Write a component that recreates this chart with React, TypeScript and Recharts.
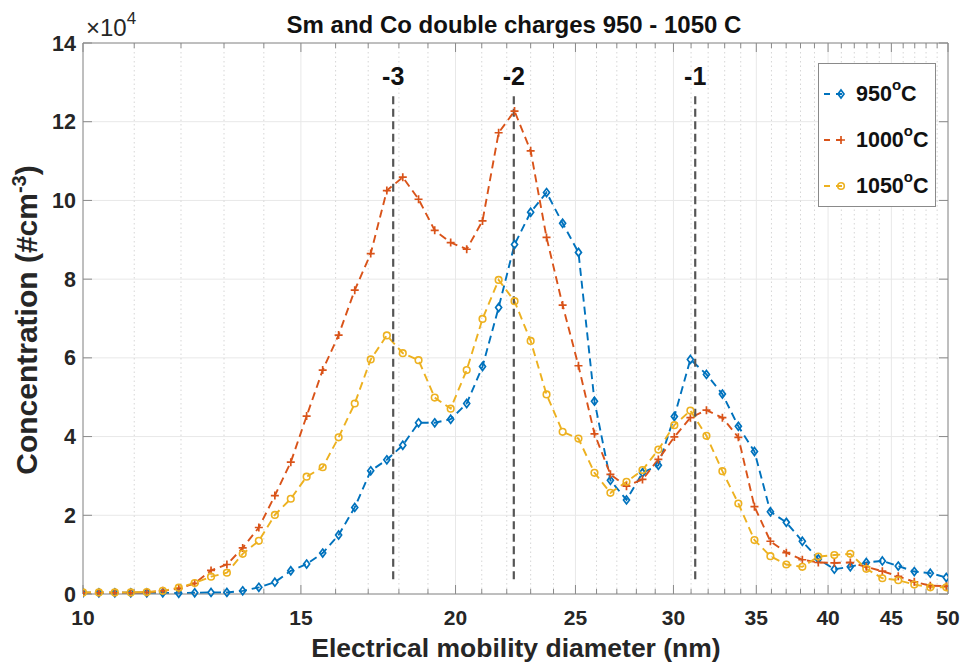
import React from 'react';
import { LineChart, Line, XAxis, YAxis, CartesianGrid, ReferenceLine, Legend } from 'recharts';

const FONT = '"Liberation Sans", Arial, Helvetica, sans-serif';
const AXIS_COLOR = '#8a8a8a';
const TEXT_COLOR = '#262626';

// mobility diameter of each size bin (nm)
const diameters = [
  10.0, 10.3, 10.61, 10.93, 11.26, 11.6, 11.95, 12.31, 12.69, 13.07,
  13.46, 13.87, 14.29, 14.72, 15.16, 15.62, 16.09, 16.58, 17.08, 17.6,
  18.13, 18.67, 19.24, 19.82, 20.42, 21.03, 21.67, 22.32, 23.0, 23.69,
  24.41, 25.14, 25.9, 26.68, 27.49, 28.32, 29.17, 30.05, 30.96, 31.9,
  32.86, 33.85, 34.88, 35.93, 37.01, 38.13, 39.28, 40.47, 41.69, 42.95,
  44.25, 45.58, 46.96, 48.38, 49.84,
];

// concentrations, in units of 1e4 #/cm3
const conc950 = [
  0.03, 0.03, 0.03, 0.03, 0.03, 0.03, 0.02, 0.03, 0.04, 0.04,
  0.08, 0.17, 0.3, 0.59, 0.76, 1.04, 1.5, 2.2, 3.13, 3.41,
  3.78, 4.35, 4.35, 4.44, 4.84, 5.78, 7.28, 8.88, 9.7, 10.2,
  9.42, 8.68, 4.9, 2.89, 2.39, 3.08, 3.27, 4.51, 5.96, 5.58,
  5.08, 4.26, 3.62, 2.09, 1.82, 1.34, 0.89, 0.63, 0.69, 0.8,
  0.84, 0.71, 0.57, 0.53, 0.42,
];

const conc1000 = [
  0.03, 0.03, 0.03, 0.03, 0.04, 0.08, 0.14, 0.27, 0.6, 0.75,
  1.17, 1.69, 2.5, 3.35, 4.52, 5.69, 6.58, 7.72, 8.65, 10.25,
  10.59, 10.03, 9.24, 8.93, 8.76, 9.48, 11.72, 12.27, 11.26, 9.06,
  7.34, 5.8, 4.07, 3.04, 2.74, 2.91, 3.42, 3.99, 4.48, 4.67,
  4.48, 3.98, 2.22, 1.34, 1.05, 0.87, 0.8, 0.79, 0.8, 0.69,
  0.58, 0.45, 0.31, 0.21, 0.2,
];

const conc1050 = [
  0.04, 0.04, 0.04, 0.04, 0.05, 0.08, 0.16, 0.28, 0.44, 0.54,
  1.02, 1.35, 2.01, 2.42, 2.98, 3.22, 3.98, 4.84, 5.96, 6.57,
  6.12, 5.94, 4.99, 4.71, 5.69, 6.99, 7.98, 7.44, 6.43, 5.07,
  4.12, 3.95, 3.08, 2.57, 2.85, 3.15, 3.67, 4.29, 4.66, 4.02,
  3.12, 2.3, 1.37, 0.96, 0.75, 0.69, 0.95, 0.99, 1.02, 0.64,
  0.4, 0.35, 0.24, 0.17, 0.17,
];

const xTicks = [10, 15, 20, 25, 30, 35, 40, 45, 50];
const xMinorTicks = [
  11, 12, 13, 14, 16, 17, 18, 19, 21, 22, 23, 24, 26, 27, 28, 29,
  31, 32, 33, 34, 36, 37, 38, 39, 41, 42, 43, 44, 46, 47, 48, 49,
];
const yTicks = [0, 2, 4, 6, 8, 10, 12, 14];

// charge state markers
const chargeLabels = ['-3', '-2', '-1'];
const chargeDiameters = [17.81, 22.29, 31.24];
const chargeSpan = [12.65, 0.3];

const series = [
  { key: 'c950', temp: '950', color: '#0072BD', marker: 'diamond' },
  { key: 'c1000', temp: '1000', color: '#D95319', marker: 'plus' },
  { key: 'c1050', temp: '1050', color: '#EDB120', marker: 'circle' },
];

const data = diameters.map((d, i) => ({
  d,
  c950: conc950[i],
  c1000: conc1000[i],
  c1050: conc1050[i],
}));

function markerPath(kind: string, cx: number, cy: number, color: string, key?: any) {
  if (kind === 'plus') {
    return (
      <path key={key} d={`M${cx - 4},${cy}H${cx + 4}M${cx},${cy - 4}V${cy + 4}`}
        stroke={color} strokeWidth={1.7} fill="none" />
    );
  }
  if (kind === 'diamond') {
    return (
      <path key={key} d={`M${cx},${cy - 4}L${cx + 3},${cy}L${cx},${cy + 4}L${cx - 3},${cy}Z`}
        stroke={color} strokeWidth={1.7} fill="none" />
    );
  }
  return <circle key={key} cx={cx} cy={cy} r={3.3} stroke={color} strokeWidth={1.6} fill="none" />;
}

// dotted minor grid line with short ticks on top and bottom edge
const MinorX = (p: any) => {
  const top = Math.min(p.y1, p.y2);
  const bot = Math.max(p.y1, p.y2);
  return (
    <g>
      <line x1={p.x1} x2={p.x1} y1={top} y2={bot} stroke="#d6d6d6" strokeDasharray="1.5 3" />
      <line x1={p.x1} x2={p.x1} y1={bot} y2={bot - 5} stroke={AXIS_COLOR} />
      <line x1={p.x1} x2={p.x1} y1={top} y2={top + 5} stroke={AXIS_COLOR} />
    </g>
  );
};

const MajorX = (p: any) => {
  const top = Math.min(p.y1, p.y2);
  const bot = Math.max(p.y1, p.y2);
  return (
    <g>
      <line x1={p.x1} x2={p.x1} y1={bot} y2={bot - 9} stroke={AXIS_COLOR} />
      <line x1={p.x1} x2={p.x1} y1={top} y2={top + 9} stroke={AXIS_COLOR} />
    </g>
  );
};

const MajorY = (p: any) => {
  const l = Math.min(p.x1, p.x2);
  const r = Math.max(p.x1, p.x2);
  return (
    <g>
      <line x1={l} x2={l + 9} y1={p.y1} y2={p.y1} stroke={AXIS_COLOR} />
      <line x1={r} x2={r - 9} y1={p.y1} y2={p.y1} stroke={AXIS_COLOR} />
    </g>
  );
};

const ChargeLine = (label: string) => (p: any) => {
  const top = Math.min(p.y1, p.y2);
  const bot = Math.max(p.y1, p.y2);
  return (
    <g>
      <line x1={p.x1} x2={p.x1} y1={top} y2={bot} stroke="#555" strokeWidth={2.2} strokeDasharray="8 4.5" />
      <text x={p.x1} y={top - 11} textAnchor="middle" fontFamily={FONT} fontWeight="bold"
        fontSize={25} fill="#111">{label}</text>
    </g>
  );
};

const LegendBox = () => (
  <div style={{
    width: 118, height: 144, border: `1px solid ${AXIS_COLOR}`, background: '#fff',
    paddingTop: 7, boxSizing: 'border-box',
  }}>
    {series.map((s) => (
      <div key={s.key} style={{ height: 46, display: 'flex', alignItems: 'center' }}>
        <svg width={34} height={14} style={{ marginLeft: 3 }}>
          <line x1={2} x2={26} y1={7} y2={7} stroke={s.color} strokeWidth={1.8} strokeDasharray="6 6" />
          {markerPath(s.marker, 19, 7, s.color)}
        </svg>
        <span style={{ fontFamily: FONT, fontWeight: 'bold', fontSize: 21.5, color: '#111', marginLeft: 0 }}>
          {s.temp}
          <sup style={{ fontSize: 15, verticalAlign: 'top', position: 'relative', top: -6 }}>o</sup>
          C
        </span>
      </div>
    ))}
  </div>
);

export default function App() {
  return (
    <div style={{ position: 'absolute', left: 0, top: 0, width: 964, height: 664, background: '#fff' }}>
      <LineChart width={964} height={664} data={data} margin={{ top: 43, right: 16, bottom: 0, left: 0 }}>
        <CartesianGrid stroke="#e8e8e8" />
        <XAxis
          dataKey="d"
          type="number"
          scale="log"
          domain={[10, 50]}
          ticks={xTicks}
          allowDataOverflow
          height={70}
          tickLine={false}
          tickSize={0}
          tickMargin={16}
          axisLine={{ stroke: AXIS_COLOR }}
          tick={{ fontFamily: FONT, fontWeight: 'bold', fontSize: 21, fill: TEXT_COLOR }}
        />
        <YAxis
          type="number"
          domain={[0, 14]}
          ticks={yTicks}
          width={83}
          tickLine={false}
          tickSize={0}
          tickMargin={7}
          axisLine={{ stroke: AXIS_COLOR }}
          tick={{ fontFamily: FONT, fontWeight: 'bold', fontSize: 21.5, fill: TEXT_COLOR }}
        />
        {xMinorTicks.map((v) => (
          <ReferenceLine key={'mx' + v} x={v} shape={MinorX} />
        ))}
        {xTicks.map((v) => (
          <ReferenceLine key={'tx' + v} x={v} shape={MajorX} />
        ))}
        {yTicks.map((v) => (
          <ReferenceLine key={'ty' + v} y={v} shape={MajorY} />
        ))}
        <ReferenceLine y={14} stroke={AXIS_COLOR} />
        <ReferenceLine x={50} stroke={AXIS_COLOR} />
        {series.map((s) => (
          <Line
            key={s.key}
            dataKey={s.key}
            type="linear"
            stroke={s.color}
            strokeWidth={1.9}
            strokeDasharray="8 5"
            isAnimationActive={false}
            dot={(p: any) => markerPath(s.marker, p.cx, p.cy, s.color, s.key + p.index)}
            activeDot={false}
          />
        ))}
        {chargeDiameters.map((d, i) => (
          <ReferenceLine
            key={'ch' + i}
            segment={[{ x: d, y: chargeSpan[0] }, { x: d, y: chargeSpan[1] }]}
            shape={ChargeLine(chargeLabels[i])}
          />
        ))}
        <Legend
          layout="vertical"
          align="center"
          verticalAlign="middle"
          content={LegendBox}
          wrapperStyle={{ position: 'absolute', left: 818, top: 63, width: 118, height: 144 }}
        />
      </LineChart>
      <svg width={964} height={664} style={{ position: 'absolute', left: 0, top: 0, pointerEvents: 'none' }}>
        <text x={514} y={33} textAnchor="middle" fontFamily={FONT} fontWeight="bold" fontSize={24} fill="#111">
          Sm and Co double charges 950 - 1050 C
        </text>
        <text x={86} y={36} fontFamily={FONT} fontSize={24} fill={TEXT_COLOR}>
          ×10<tspan dy={-12} fontSize={17}>4</tspan>
        </text>
        <text x={516} y={657} textAnchor="middle" fontFamily={FONT} fontWeight="bold" fontSize={26.5} fill={TEXT_COLOR}>
          Electrical mobility diameter (nm)
        </text>
        <text transform="translate(37,320) rotate(-90)" textAnchor="middle" fontFamily={FONT} fontWeight="bold"
          fontSize={30} fill={TEXT_COLOR}>
          Concentration (#cm<tspan dy={-11} fontSize={20}>-3</tspan><tspan dy={11}>)</tspan>
        </text>
      </svg>
    </div>
  );
}
